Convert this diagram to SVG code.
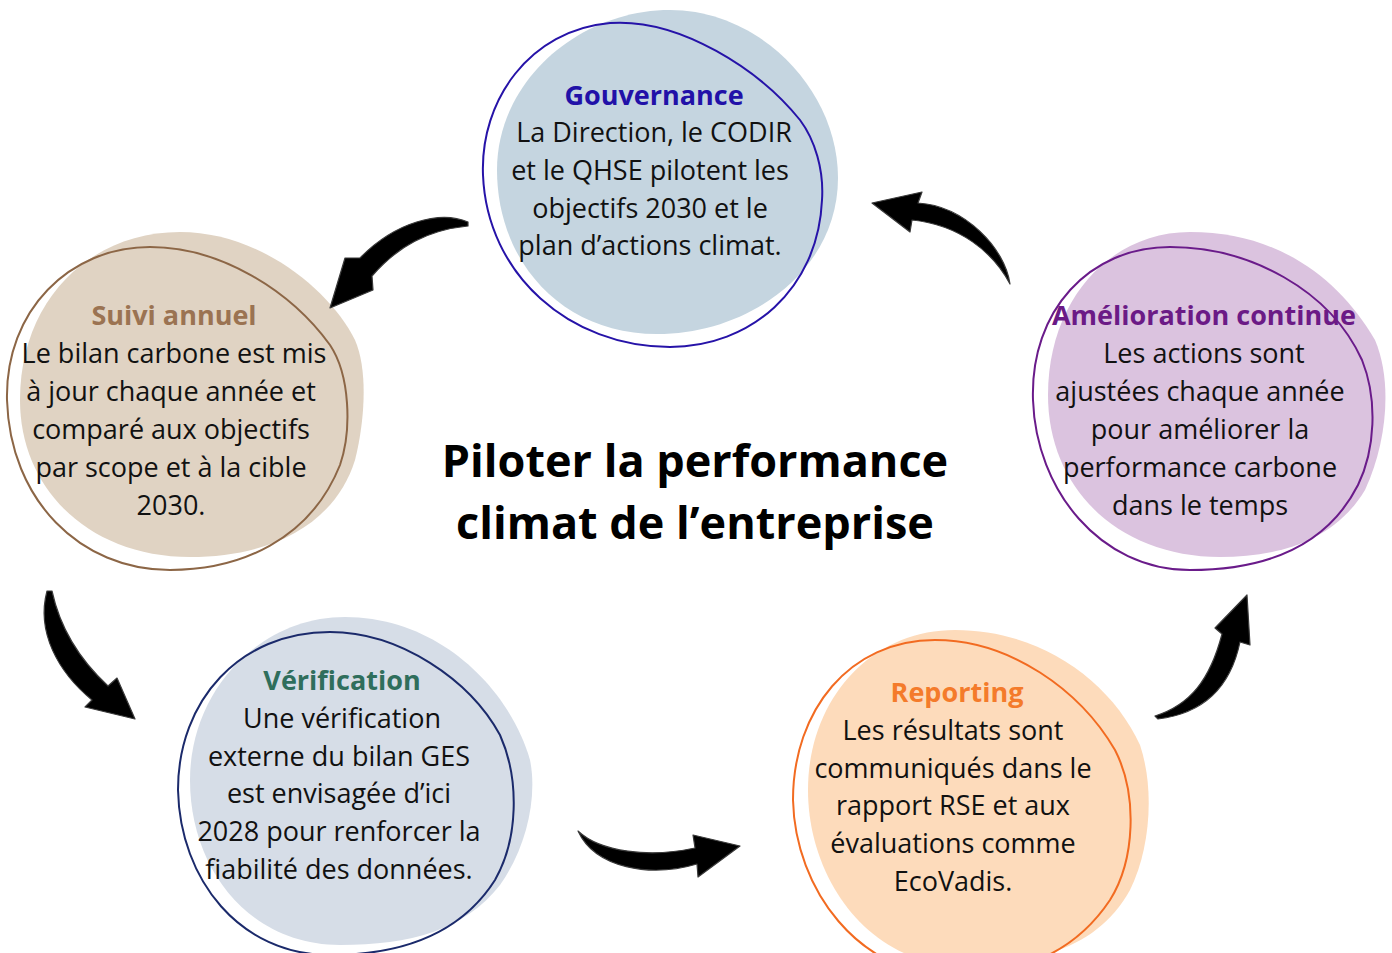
<svg xmlns="http://www.w3.org/2000/svg" width="1392" height="953" viewBox="0 0 1392 953">
  <defs>
    <style>
      .body { font-family: "Open Sans", "Noto Sans", sans-serif; font-size: 27px; fill: #111; text-anchor: middle; }
      .head { font-family: "Open Sans", "Noto Sans", sans-serif; font-size: 27px; font-weight: 700; text-anchor: middle; }
      .title { font-family: "Open Sans", "Noto Sans", sans-serif; font-size: 45px; font-weight: 700; fill: #000; text-anchor: middle; }
      .ring { fill: none; stroke-width: 2; }
      .arrow { fill: #000; stroke: #3a3a3a; stroke-width: 1.2; stroke-linejoin: round; }
    </style>
  </defs>
  <rect width="1392" height="953" fill="#ffffff"/>

  <!-- Central title -->
  <g id="title">
    <text class="title" x="695" y="477">Piloter la performance</text>
    <text class="title" x="695" y="539">climat de l’entreprise</text>
  </g>

  <!-- Gouvernance -->
  <g id="gouvernance">
    <path fill="#c5d5e0" d="M497,170 C497,80 580,10 670,10 C760,10 838,90 838,178 C838,270 750,334 657,334 C560,334 497,260 497,170 Z"/>
    <path class="ring" stroke="#2613a8" d="M483,175 C480,100 530,30 610,23 C680,18 760,70 800,120 C815,140 824,170 822,200 C818,290 750,347 670,347 C570,347 487,275 483,175 Z"/>
    <text class="head" fill="#2111a8" x="654" y="105">Gouvernance</text>
    <text class="body" x="654" y="142">La Direction, le CODIR</text>
    <text class="body" x="650" y="180">et le QHSE pilotent les</text>
    <text class="body" x="650" y="218">objectifs 2030 et le</text>
    <text class="body" x="650" y="255">plan d’actions climat.</text>
  </g>

  <!-- Suivi annuel -->
  <g id="suivi-annuel">
    <path fill="#e0d3c3" d="M20,400 C20,300 90,232 180,232 C260,232 330,290 355,340 C368,370 365,420 355,460 C335,525 270,557 190,557 C90,557 20,490 20,400 Z"/>
    <path class="ring" stroke="#8c6646" d="M7,400 C5,310 70,247 150,247 C220,247 290,290 330,345 C350,375 352,430 340,465 C310,540 240,570 170,570 C80,570 10,500 7,400 Z"/>
    <text class="head" fill="#9b7352" x="174" y="325">Suivi annuel</text>
    <text class="body" x="174" y="363">Le bilan carbone est mis</text>
    <text class="body" x="171" y="401">à jour chaque année et</text>
    <text class="body" x="171" y="439">comparé aux objectifs</text>
    <text class="body" x="171" y="477">par scope et à la cible</text>
    <text class="body" x="171" y="515">2030.</text>
  </g>

  <!-- Amélioration continue -->
  <g id="amelioration-continue">
    <path fill="#dbc3df" d="M1048,395 C1048,300 1110,232 1190,232 C1280,232 1340,280 1375,340 C1392,380 1388,440 1365,490 C1335,540 1280,557 1220,557 C1120,557 1048,490 1048,395 Z"/>
    <path class="ring" stroke="#6a1b8a" d="M1033,400 C1030,310 1090,247 1170,247 C1250,247 1330,290 1362,360 C1378,400 1375,450 1358,485 C1325,550 1260,570 1190,570 C1100,570 1036,490 1033,400 Z"/>
    <text class="head" fill="#6b1a86" x="1204" y="325">Amélioration continue</text>
    <text class="body" x="1204" y="363">Les actions sont</text>
    <text class="body" x="1200" y="401">ajustées chaque année</text>
    <text class="body" x="1200" y="439">pour améliorer la</text>
    <text class="body" x="1200" y="477">performance carbone</text>
    <text class="body" x="1200" y="515">dans le temps</text>
  </g>

  <!-- Vérification -->
  <g id="verification">
    <path fill="#d6dde7" d="M190,780 C190,690 260,617 345,617 C440,617 510,690 530,760 C538,800 525,850 500,885 C465,930 410,945 340,945 C250,945 190,870 190,780 Z"/>
    <path class="ring" stroke="#1b2a6b" d="M178,790 C178,700 240,632 330,632 C400,632 470,680 500,735 C520,780 518,840 495,880 C460,935 400,955 330,955 C240,955 180,880 178,790 Z"/>
    <text class="head" fill="#2f6e5c" x="342" y="690">Vérification</text>
    <text class="body" x="342" y="728">Une vérification</text>
    <text class="body" x="339" y="766">externe du bilan GES</text>
    <text class="body" x="339" y="803">est envisagée d’ici</text>
    <text class="body" x="339" y="841">2028 pour renforcer la</text>
    <text class="body" x="339" y="879">fiabilité des données.</text>
  </g>

  <!-- Reporting -->
  <g id="reporting">
    <path fill="#fddbbb" d="M808,790 C808,700 870,630 955,630 C1040,630 1110,680 1140,745 C1155,790 1150,850 1130,890 C1100,945 1040,965 960,965 C870,965 808,880 808,790 Z"/>
    <path class="ring" stroke="#f26b21" d="M793,800 C793,710 850,640 935,640 C1010,640 1080,690 1115,750 C1138,795 1135,860 1110,900 C1070,960 1010,975 950,975 C860,975 795,890 793,800 Z"/>
    <text class="head" fill="#f47b2b" x="957" y="702">Reporting</text>
    <text class="body" x="953" y="740">Les résultats sont</text>
    <text class="body" x="953" y="778">communiqués dans le</text>
    <text class="body" x="953" y="815">rapport RSE et aux</text>
    <text class="body" x="953" y="853">évaluations comme</text>
    <text class="body" x="953" y="891">EcoVadis.</text>
  </g>

  <!-- Curved block arrows linking the cycle steps -->
  <g id="connectors">
    <path class="arrow" d="M468,222 C440,210 395,222 360,258 L345,258 L330,308 L373,290 L372,276 C398,246 428,230 468,226 Z"/>
    <path class="arrow" d="M47,591 C36,632 58,672 92,700 L85,707 L135,719 L117,678 L108,686 C80,660 60,628 52,591 Z"/>
    <path class="arrow" d="M578,831 C600,852 650,858 695,848 L693,835 L740,846 L698,877 L697,864 C650,878 595,868 578,831 Z"/>
    <path class="arrow" d="M1155,716 C1190,705 1210,680 1222,634 L1215,628 L1247,595 L1250,645 L1240,642 C1230,690 1200,714 1158,719 Z"/>
    <path class="arrow" d="M1010,284 C1005,248 965,206 918,203 L922,192 L872,203 L910,232 L912,220 C960,225 993,252 1010,284 Z"/>
  </g>
</svg>
